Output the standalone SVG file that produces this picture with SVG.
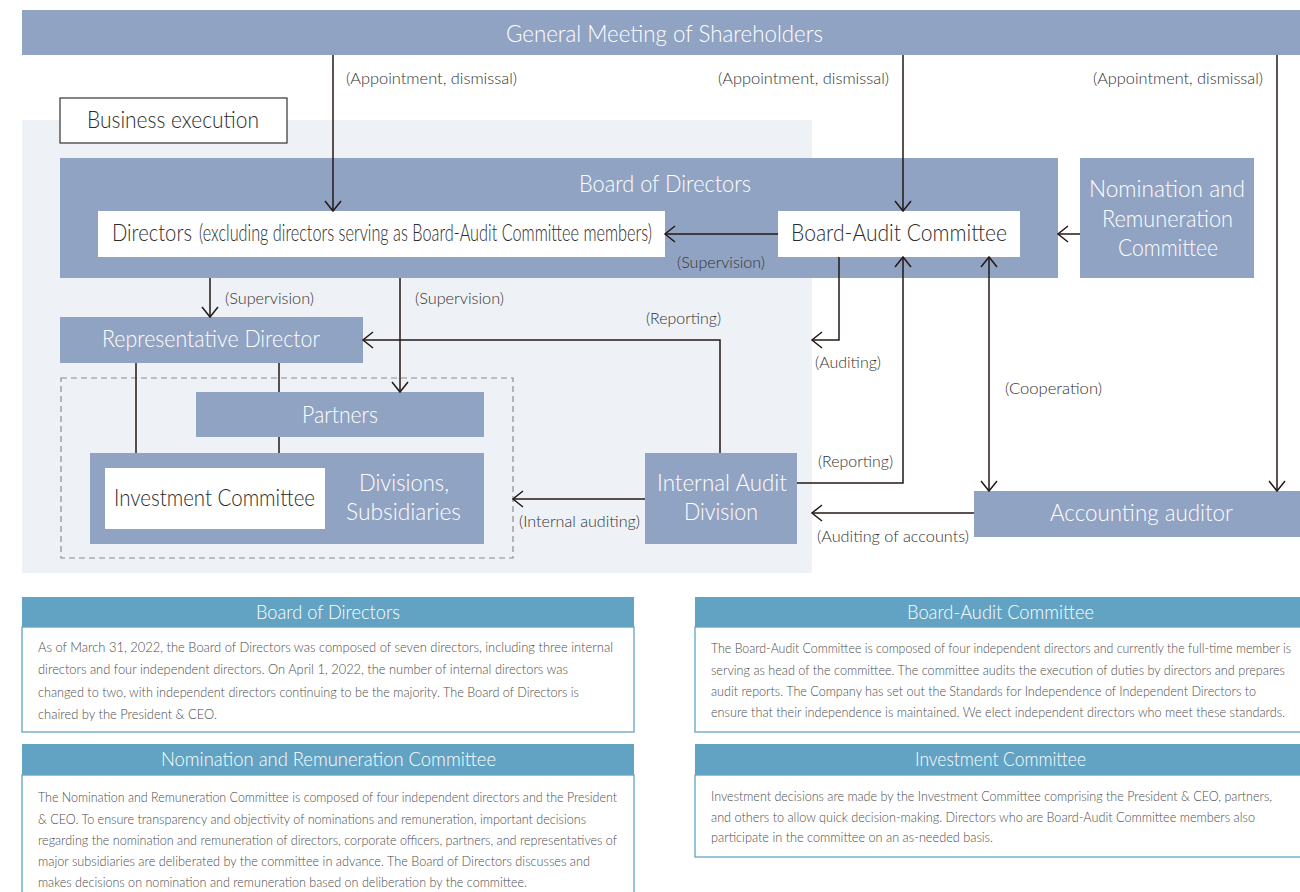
<svg xmlns="http://www.w3.org/2000/svg" width="1300" height="892" viewBox="0 0 1300 892">
<style>
text{font-family:"Lato","Liberation Sans",sans-serif;font-weight:300}
.node{fill:#91a3c3}
.wbox{fill:#ffffff}
.nt{fill:#ffffff;font-size:23px}
.dt{fill:#2b2b2b;font-size:23px}
.lb{fill:#333333;font-size:16px}
.ln{fill:none;stroke:#231815;stroke-width:1.5}
.ph{fill:#62a3c4}
.pb{fill:#ffffff;stroke:#62a3c4;stroke-width:1.3}
.pht{fill:#ffffff;font-size:19px}
.bt{fill:#4d4d4d;font-size:13px}
</style>
<defs>
<marker id="ah" viewBox="-12 -10 14 20" markerWidth="14" markerHeight="20" refX="0" refY="0" orient="auto-start-reverse" markerUnits="userSpaceOnUse">
<path d="M-10,-8 L0,0 L-10,8" fill="none" stroke="#231815" stroke-width="1.5"/>
</marker>
</defs>
<rect x="0" y="0" width="1300" height="892" fill="#ffffff"/>
<g id="business-execution-area">
<rect x="22" y="120" width="790" height="453" fill="#eef1f6"/>
</g>
<g id="general-meeting">
<rect class="node" x="22" y="10" width="1278" height="45"/>
<text class="nt" x="506" y="42" font-size="24" textLength="317" lengthAdjust="spacingAndGlyphs">General Meeting of Shareholders</text>
</g>
<g id="business-execution-label">
<rect x="60" y="98" width="227" height="45" fill="#ffffff" stroke="#333333" stroke-width="1.2"/>
<text class="dt" x="87" y="128" textLength="172" lengthAdjust="spacingAndGlyphs">Business execution</text>
</g>
<g id="board-of-directors">
<rect class="node" x="60" y="158" width="998" height="120"/>
<text class="nt" x="579" y="192" textLength="172" lengthAdjust="spacingAndGlyphs">Board of Directors</text>
</g>
<g id="directors">
<rect class="wbox" x="98" y="211" width="567" height="46"/>
<text class="dt" x="112" y="241" textLength="80" lengthAdjust="spacingAndGlyphs">Directors</text>
<text class="dt" x="199" y="241" font-size="17" textLength="453" lengthAdjust="spacingAndGlyphs">(excluding directors serving as Board-Audit Committee members)</text>
</g>
<g id="board-audit-committee">
<rect class="wbox" x="778" y="211" width="242" height="46"/>
<text class="dt" x="791" y="241" textLength="216" lengthAdjust="spacingAndGlyphs">Board-Audit Committee</text>
</g>
<g id="nomination-remuneration">
<rect class="node" x="1080" y="158" width="174" height="120"/>
<text class="nt" x="1089" y="197" textLength="156" lengthAdjust="spacingAndGlyphs">Nomination and</text>
<text class="nt" x="1102" y="227" textLength="131" lengthAdjust="spacingAndGlyphs">Remuneration</text>
<text class="nt" x="1118" y="256" textLength="100" lengthAdjust="spacingAndGlyphs">Committee</text>
</g>
<g id="representative-director">
<rect class="node" x="60" y="317" width="303" height="46"/>
<text class="nt" x="102" y="347" textLength="218" lengthAdjust="spacingAndGlyphs">Representative Director</text>
</g>
<g id="dashed-group">
<rect x="61" y="378" width="452" height="180" fill="none" stroke="#8c8c8c" stroke-width="1.2" stroke-dasharray="6 4"/>
</g>
<g id="partners">
<rect class="node" x="196" y="392" width="288" height="45"/>
<text class="nt" x="302" y="423" textLength="76" lengthAdjust="spacingAndGlyphs">Partners</text>
</g>
<g id="divisions-subsidiaries">
<rect class="node" x="90" y="453" width="394" height="91"/>
<text class="nt" x="359" y="491" textLength="90" lengthAdjust="spacingAndGlyphs">Divisions,</text>
<text class="nt" x="346" y="520" textLength="115" lengthAdjust="spacingAndGlyphs">Subsidiaries</text>
</g>
<g id="investment-committee">
<rect class="wbox" x="105" y="468" width="220" height="61"/>
<text class="dt" x="114" y="506" font-size="22" textLength="201" lengthAdjust="spacingAndGlyphs">Investment Committee</text>
</g>
<g id="internal-audit-division">
<rect class="node" x="645" y="453" width="152" height="91"/>
<text class="nt" x="657" y="491" textLength="130" lengthAdjust="spacingAndGlyphs">Internal Audit</text>
<text class="nt" x="684" y="520" textLength="74" lengthAdjust="spacingAndGlyphs">Division</text>
</g>
<g id="accounting-auditor">
<rect class="node" x="974" y="491" width="326" height="46"/>
<text class="nt" x="1050" y="521" textLength="183" lengthAdjust="spacingAndGlyphs">Accounting auditor</text>
</g>
<g id="connectors">
<path class="ln" d="M333,55 V211" marker-end="url(#ah)"/>
<path class="ln" d="M903,55 V211" marker-end="url(#ah)"/>
<path class="ln" d="M1277,55 V491" marker-end="url(#ah)"/>
<path class="ln" d="M778,234 H665" marker-end="url(#ah)"/>
<path class="ln" d="M1080,234 H1058" marker-end="url(#ah)"/>
<path class="ln" d="M210,278 V317" marker-end="url(#ah)"/>
<path class="ln" d="M400,278 V392" marker-end="url(#ah)"/>
<path class="ln" d="M839,257 V340 H812" marker-end="url(#ah)"/>
<path class="ln" d="M797,483 H903 V257" marker-end="url(#ah)"/>
<path class="ln" d="M989,257 V491" marker-start="url(#ah)" marker-end="url(#ah)"/>
<path class="ln" d="M720,453 V340 H363" marker-end="url(#ah)"/>
<path class="ln" d="M645,499 H513" marker-end="url(#ah)"/>
<path class="ln" d="M974,513 H812" marker-end="url(#ah)"/>
<path class="ln" d="M136,363 V453"/>
<path class="ln" d="M279,363 V392"/>
<path class="ln" d="M279,437 V453"/>
<text class="lb" x="346" y="84" textLength="171" lengthAdjust="spacingAndGlyphs">(Appointment, dismissal)</text>
<text class="lb" x="718" y="84" textLength="171" lengthAdjust="spacingAndGlyphs">(Appointment, dismissal)</text>
<text class="lb" x="1093" y="84" textLength="170" lengthAdjust="spacingAndGlyphs">(Appointment, dismissal)</text>
<text class="lb" x="677" y="268" textLength="88" lengthAdjust="spacingAndGlyphs">(Supervision)</text>
<text class="lb" x="225" y="304" textLength="89" lengthAdjust="spacingAndGlyphs">(Supervision)</text>
<text class="lb" x="415" y="304" textLength="89" lengthAdjust="spacingAndGlyphs">(Supervision)</text>
<text class="lb" x="646" y="324" textLength="75" lengthAdjust="spacingAndGlyphs">(Reporting)</text>
<text class="lb" x="815" y="368" textLength="66" lengthAdjust="spacingAndGlyphs">(Auditing)</text>
<text class="lb" x="1005" y="394" textLength="97" lengthAdjust="spacingAndGlyphs">(Cooperation)</text>
<text class="lb" x="818" y="467" textLength="75" lengthAdjust="spacingAndGlyphs">(Reporting)</text>
<text class="lb" x="519" y="527" textLength="121" lengthAdjust="spacingAndGlyphs">(Internal auditing)</text>
<text class="lb" x="817" y="542" textLength="152" lengthAdjust="spacingAndGlyphs">(Auditing of accounts)</text>
</g>
<g id="panel-board-of-directors">
<rect class="pb" x="22" y="627" width="612" height="105"/>
<rect class="ph" x="22" y="597" width="612" height="30"/>
<text class="pht" x="256" y="619" textLength="144" lengthAdjust="spacingAndGlyphs">Board of Directors</text>
<text class="bt" x="38" y="652" textLength="575" lengthAdjust="spacingAndGlyphs">As of March 31, 2022, the Board of Directors was composed of seven directors, including three internal</text>
<text class="bt" x="38" y="674" textLength="530" lengthAdjust="spacingAndGlyphs">directors and four independent directors. On April 1, 2022, the number of internal directors was</text>
<text class="bt" x="38" y="697" textLength="541" lengthAdjust="spacingAndGlyphs">changed to two, with independent directors continuing to be the majority. The Board of Directors is</text>
<text class="bt" x="38" y="719" textLength="179" lengthAdjust="spacingAndGlyphs">chaired by the President &amp; CEO.</text>
</g>
<g id="panel-nomination">
<rect class="pb" x="22" y="775" width="612" height="130"/>
<rect class="ph" x="22" y="744" width="612" height="31"/>
<text class="pht" x="161" y="766" textLength="335" lengthAdjust="spacingAndGlyphs">Nomination and Remuneration Committee</text>
<text class="bt" x="38" y="802" textLength="579" lengthAdjust="spacingAndGlyphs">The Nomination and Remuneration Committee is composed of four independent directors and the President</text>
<text class="bt" x="38" y="824" textLength="548" lengthAdjust="spacingAndGlyphs">&amp; CEO. To ensure transparency and objectivity of nominations and remuneration, important decisions</text>
<text class="bt" x="38" y="845" textLength="579" lengthAdjust="spacingAndGlyphs">regarding the nomination and remuneration of directors, corporate officers, partners, and representatives of</text>
<text class="bt" x="38" y="866" textLength="552" lengthAdjust="spacingAndGlyphs">major subsidiaries are deliberated by the committee in advance. The Board of Directors discusses and</text>
<text class="bt" x="38" y="887" textLength="489" lengthAdjust="spacingAndGlyphs">makes decisions on nomination and remuneration based on deliberation by the committee.</text>
</g>
<g id="panel-board-audit">
<rect class="pb" x="695" y="627" width="610" height="105"/>
<rect class="ph" x="695" y="597" width="610" height="30"/>
<text class="pht" x="907" y="619" textLength="187" lengthAdjust="spacingAndGlyphs">Board-Audit Committee</text>
<text class="bt" x="711" y="653" textLength="580" lengthAdjust="spacingAndGlyphs">The Board-Audit Committee is composed of four independent directors and currently the full-time member is</text>
<text class="bt" x="711" y="675" textLength="574" lengthAdjust="spacingAndGlyphs">serving as head of the committee. The committee audits the execution of duties by directors and prepares</text>
<text class="bt" x="711" y="696" textLength="545" lengthAdjust="spacingAndGlyphs">audit reports. The Company has set out the Standards for Independence of Independent Directors to</text>
<text class="bt" x="711" y="717" textLength="574" lengthAdjust="spacingAndGlyphs">ensure that their independence is maintained. We elect independent directors who meet these standards.</text>
</g>
<g id="panel-investment">
<rect class="pb" x="695" y="775" width="610" height="82"/>
<rect class="ph" x="695" y="744" width="610" height="31"/>
<text class="pht" x="915" y="766" textLength="171" lengthAdjust="spacingAndGlyphs">Investment Committee</text>
<text class="bt" x="711" y="801" textLength="561" lengthAdjust="spacingAndGlyphs">Investment decisions are made by the Investment Committee comprising the President &amp; CEO, partners,</text>
<text class="bt" x="711" y="822" textLength="544" lengthAdjust="spacingAndGlyphs">and others to allow quick decision-making. Directors who are Board-Audit Committee members also</text>
<text class="bt" x="711" y="842" textLength="282" lengthAdjust="spacingAndGlyphs">participate in the committee on an as-needed basis.</text>
</g>
</svg>
